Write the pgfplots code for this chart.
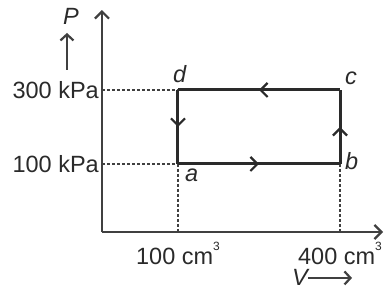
\documentclass[border=0pt]{standalone}
\usepackage{fontspec}
\setmainfont{Liberation Sans}
\usepackage{pgfplots}
\pgfplotsset{compat=1.18}
\usetikzlibrary{arrows.meta,decorations.markings}
\definecolor{ink}{HTML}{2A2A2A}
\definecolor{axc}{HTML}{404040}
\newcommand\bigf{\fontsize{23.5bp}{27bp}\selectfont}
\newcommand\supthree{\raisebox{14bp}{\fontsize{12bp}{12bp}\selectfont 3}}
\begin{document}
\begin{tikzpicture}[
  midarrow/.style={postaction={decorate},decoration={markings,
     mark=at position 0.5 with {\arrow[line width=2.2bp]{Straight Barb[length=7bp,width=14bp]}}}}]
\begin{axis}[
  name=ax,
  scale only axis,
  width=281bp, height=222bp,
  xmin=-40.7, xmax=479.6,
  ymin=-83.8, ymax=516,
  axis lines=left,
  axis line style={axc, line width=2.2bp, -{Straight Barb[length=7bp,width=14bp,line width=2.2bp]}},
  xtick={100,400}, ytick={100,300},
  xticklabels={100 cm\supthree, 400 cm\supthree},
  yticklabels={100 kPa, 300 kPa},
  major tick length=0pt,
  tick style={draw=none},
  xticklabel style={font=\bigf, text=ink, anchor=base, inner sep=0pt, yshift=-32bp},
  yticklabel style={font=\bigf, text=ink, anchor=east, inner sep=0pt, xshift=-3bp},
  clip=false,
]
% dashed guides
\addplot[axc, line width=2.2bp, dash pattern=on 3bp off 2bp] coordinates {(-40.7,300) (100,300)};
\addplot[axc, line width=2.2bp, dash pattern=on 3bp off 2bp] coordinates {(-40.7,100) (100,100)};
\addplot[axc, line width=2.2bp, dash pattern=on 3bp off 2bp] coordinates {(100,100) (100,-83.8)};
\addplot[axc, line width=2.2bp, dash pattern=on 3bp off 2bp] coordinates {(400,100) (400,-83.8)};
% cycle
\addplot[ink, line width=3bp, midarrow] coordinates {(100,100) (400,100)};
\addplot[ink, line width=3bp, midarrow] coordinates {(400,100) (400,300)};
\addplot[ink, line width=3bp, midarrow] coordinates {(400,300) (100,300)};
\addplot[ink, line width=3bp, midarrow] coordinates {(100,300) (100,100)};
% point labels
\node[font=\bigf\itshape, text=ink, anchor=base west, inner sep=0pt] at (axis cs:113,51.4) {a};
\node[font=\bigf\itshape, text=ink, anchor=base west, inner sep=0pt] at (axis cs:409.3,83.8) {b};
\node[font=\bigf\itshape, text=ink, anchor=base west, inner sep=0pt] at (axis cs:409.3,316) {c};
\node[font=\bigf\itshape, text=ink, anchor=base west, inner sep=0pt] at (axis cs:90.7,319) {d};
% axis titles
\node[font=\bigf\itshape, text=ink, anchor=base west, inner sep=0pt] at (axis cs:-113,475.7) {P};
\draw[axc, line width=2.2bp, -{Straight Barb[length=6bp,width=13bp,line width=2.2bp]}] (axis cs:-105.6,354) -- (axis cs:-105.6,454);
\node[font=\bigf\itshape, text=ink, anchor=base west, inner sep=0pt] at (axis cs:311,-228) {V};
\draw[axc, line width=2.2bp, -{Straight Barb[length=6bp,width=13bp,line width=2.2bp]}] (axis cs:340.7,-208) -- (axis cs:422.2,-208);
\end{axis}
\pgfresetboundingbox
\useasboundingbox ([shift={(-102bp,-59bp)}]ax.south west) rectangle ++(384bp,291bp);
\end{tikzpicture}
\end{document}
